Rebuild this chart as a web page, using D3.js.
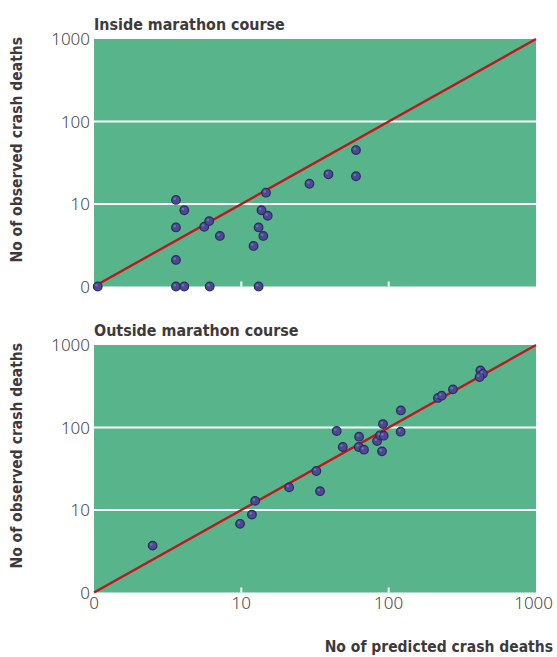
<!DOCTYPE html>
<html>
<head>
<meta charset="utf-8">
<script src="https://cdn.jsdelivr.net/npm/d3@7"></script>
<style>
  body { margin: 0; background: #fff; }
  svg { display: block; }
  .title, .axlab { font-family: "DejaVu Sans Condensed", "DejaVu Sans", sans-serif; font-weight: bold; fill: #3e3a3c; }
  .tick-lab { font-family: "Noto Sans", "DejaVu Sans", sans-serif; font-weight: 300; fill: #4a4a4a; }
</style>
</head>
<body>
<div id="chart"></div>
<script>
// ticks (0 se dibuja en 1 del eje logarítmico)
const tickValues = [0, 10, 100, 1000];

// Dentro del recorrido: [predichas, observadas]
const insidePredicted = [1.06, 3.6, 4.1, 3.6, 5.6, 6.05, 7.15, 3.6, 3.6, 4.1, 6.1, 13.1, 12.1, 13.1, 13.7, 14.1, 15.1, 14.7, 29, 39, 60, 60];
const insideObserved  = [0, 11.2, 8.4, 5.2, 5.3, 6.2, 4.1, 2.1, 0, 0, 0, 0, 3.1, 5.2, 8.4, 4.1, 7.2, 13.7, 17.6, 22.9, 21.7, 45];

// Fuera del recorrido
const outsidePredicted = [2.5, 9.8, 11.8, 12.4, 21.1, 32.3, 34.2, 44.4, 48.8, 63, 62.6, 68, 83.4, 87.4, 92.5, 91.5, 90.1, 121, 120.6, 216, 229, 273, 419, 436, 414];
const outsideObserved  = [3.7, 6.8, 8.8, 12.9, 18.8, 29.7, 16.9, 90.7, 58, 77.4, 58, 53.8, 68.6, 80.4, 79.5, 110, 51.4, 161, 89, 228, 243, 290, 493, 449, 409];

const W = 557, H = 657;
const L = 94, R = 536;
const panels = [
  { title: "Inside marathon course", top: 39, bottom: 286.5, px: insidePredicted, py: insideObserved, xlabels: false },
  { title: "Outside marathon course", top: 345, bottom: 592.5, px: outsidePredicted, py: outsideObserved, xlabels: true },
];

const svg = d3.select("#chart").append("svg").attr("width", W).attr("height", H);

const x = d3.scaleLog().domain([1, 1000]).range([L, R]);
const fx = v => x(Math.max(v, 1));

panels.forEach(p => {
  const y = d3.scaleLog().domain([1, 1000]).range([p.bottom, p.top]);
  const fy = v => y(Math.max(v, 1));
  const g = svg.append("g");

  g.append("rect").attr("x", L).attr("y", p.top).attr("width", R - L).attr("height", p.bottom - p.top)
    .attr("fill", "#57b48b");

  // líneas de rejilla horizontales
  g.selectAll(".grid").data([10, 100]).join("line")
    .attr("x1", L).attr("x2", R).attr("y1", d => fy(d)).attr("y2", d => fy(d))
    .attr("stroke", "#fff").attr("stroke-width", 2);

  // marcas cortas en el borde inferior
  g.selectAll(".xt").data([10, 100]).join("line")
    .attr("x1", d => fx(d)).attr("x2", d => fx(d)).attr("y1", p.bottom).attr("y2", p.bottom - 5)
    .attr("stroke", "#fff").attr("stroke-width", 2);

  // etiquetas eje y
  g.selectAll(".yl").data(tickValues).join("text").attr("class", "tick-lab")
    .attr("x", L - 4).attr("y", d => fy(d)).attr("dy", "0.36em")
    .attr("text-anchor", "end").attr("font-size", 17).text(d => d);

  if (p.xlabels) {
    g.selectAll(".xl").data(tickValues).join("text").attr("class", "tick-lab")
      .attr("x", d => fx(d)).attr("y", p.bottom + 16)
      .attr("text-anchor", d => d === 1000 ? "end" : "middle")
      .attr("dx", d => d === 1000 ? 17 : 0)
      .attr("font-size", 17).text(d => d);
  }

  // línea de identidad
  g.append("line").attr("x1", fx(1)).attr("y1", fy(1)).attr("x2", fx(1000)).attr("y2", fy(1000))
    .attr("stroke", "#c5141c").attr("stroke-width", 2.4);

  // puntos
  const pts = p.px.map((v, i) => [v, p.py[i]]);
  g.selectAll(".pt").data(pts).join("circle")
    .attr("cx", d => fx(d[0])).attr("cy", d => fy(d[1])).attr("r", 4.3)
    .attr("fill", "#4b4995").attr("stroke", "#2c2b58").attr("stroke-width", 1.2);
  g.selectAll(".hl").data(pts).join("circle")
    .attr("cx", d => fx(d[0]) - 1.2).attr("cy", d => fy(d[1]) - 1.2).attr("r", 1.3)
    .attr("fill", "#7b79c4").attr("opacity", 0.8);

  // título del panel
  g.append("text").attr("class", "title").attr("x", L).attr("y", p.top - 9)
    .attr("font-size", 15.9).text(p.title);

  // título eje y
  g.append("text").attr("class", "axlab")
    .attr("transform", `translate(22,${(p.top + p.bottom) / 2 - 13}) rotate(-90)`)
    .attr("text-anchor", "middle").attr("font-size", 15.5).text("No of observed crash deaths");
});

svg.append("text").attr("class", "axlab").attr("x", 553).attr("y", 652)
  .attr("text-anchor", "end").attr("font-size", 15.5).text("No of predicted crash deaths");
</script>
</body>
</html>
